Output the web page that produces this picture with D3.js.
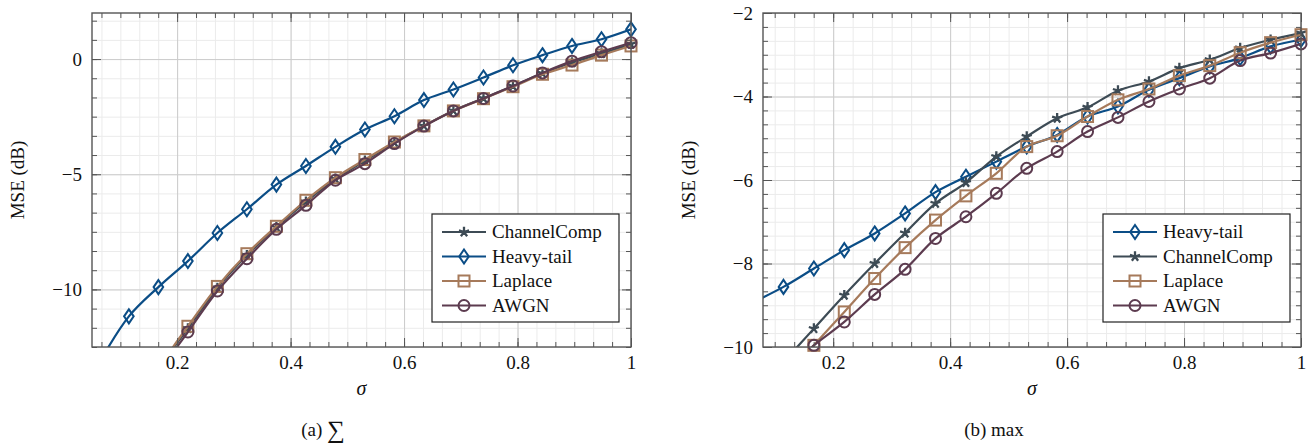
<!DOCTYPE html>
<html>
<head>
<meta charset="utf-8">
<script src="https://cdn.jsdelivr.net/npm/d3@7"></script>
<style>
  body { margin: 0; background: #fff; }
</style>
</head>
<body>
<svg id="chart" width="1309" height="443"></svg>
<script>
// sigma values (first entry is a lead-in point that falls outside the visible range)
const sigma = [0.060, 0.115, 0.167, 0.219, 0.271, 0.323, 0.375, 0.427, 0.479, 0.531,
               0.583, 0.635, 0.687, 0.740, 0.792, 0.844, 0.896, 0.948, 1.0];

// (a) sum — MSE in dB
const heavySum   = [-13.3, -11.17, -9.90, -8.77, -7.55, -6.52, -5.45, -4.64, -3.81, -3.06,
                    -2.48, -1.78, -1.32, -0.80, -0.27, 0.17, 0.57, 0.86, 1.29];
const channelSum = [null, null, -13.4, -11.70, -9.94, -8.52, -7.30, -6.20, -5.20, -4.42,
                    -3.62, -2.90, -2.24, -1.70, -1.17, -0.62, -0.15, 0.24, 0.65];
const laplaceSum = [null, null, -13.4, -11.60, -9.87, -8.45, -7.26, -6.13, -5.15, -4.36,
                    -3.60, -2.90, -2.25, -1.72, -1.20, -0.66, -0.26, 0.17, 0.57];
const awgnSum    = [null, null, -13.6, -11.85, -10.07, -8.67, -7.39, -6.35, -5.26, -4.54,
                    -3.67, -2.91, -2.25, -1.71, -1.17, -0.60, -0.09, 0.32, 0.71];

// (b) max — MSE in dB
const heavyMax   = [-8.95, -8.56, -8.12, -7.68, -7.28, -6.80, -6.29, -5.92, -5.56, -5.20,
                    -4.92, -4.48, -4.24, -3.84, -3.56, -3.28, -3.08, -2.80, -2.64];
const channelMax = [null, -10.36, -9.56, -8.76, -8.00, -7.27, -6.56, -6.06, -5.44, -4.96,
                    -4.52, -4.26, -3.86, -3.64, -3.32, -3.12, -2.84, -2.64, -2.48];
const laplaceMax = [null, -10.80, -9.96, -9.16, -8.36, -7.62, -6.96, -6.38, -5.84, -5.20,
                    -4.94, -4.48, -4.08, -3.82, -3.50, -3.26, -2.95, -2.71, -2.52];
const awgnMax    = [null, -10.60, -9.96, -9.40, -8.74, -8.14, -7.40, -6.88, -6.32, -5.72,
                    -5.32, -4.84, -4.50, -4.12, -3.82, -3.56, -3.14, -2.96, -2.74];

// tick labels
const xTicks = [0.2, 0.4, 0.6, 0.8, 1];
const yTicksSum = [-10, -5, 0];
const yTicksMax = [-10, -8, -6, -4, -2];

const names = { heavy: "Heavy-tail", channel: "ChannelComp", laplace: "Laplace", awgn: "AWGN" };
const colors = { heavy: "#0b4d86", channel: "#3d4b55", laplace: "#a67a5b", awgn: "#5c3b4f" };
const marks = { heavy: "diamond", channel: "star", laplace: "square", awgn: "circle" };

const panels = [
  { id: "a", left: 92, right: 631, xDomain: [0.05, 1], yDomain: [-12.5, 2],
    yTicks: yTicksSum, yMinorStep: 5 / 6, yLabelX: 17, caption: "(a) ", captionSym: "∑", captionX: 323,
    legendX: 432, order: ["channel", "heavy", "laplace", "awgn"],
    series: { heavy: heavySum, channel: channelSum, laplace: laplaceSum, awgn: awgnSum } },
  { id: "b", left: 763, right: 1301, xDomain: [0.08, 1], yDomain: [-10, -2],
    yTicks: yTicksMax, yMinorStep: 1 / 3, yLabelX: 688, caption: "(b) max", captionSym: "", captionX: 994,
    legendX: 1103, order: ["heavy", "channel", "laplace", "awgn"],
    series: { heavy: heavyMax, channel: channelMax, laplace: laplaceMax, awgn: awgnMax } }
];

const plotTop = 13, plotBottom = 347, h = plotBottom - plotTop;
const serif = '"Liberation Serif", "DejaVu Serif", serif';
const svg = d3.select("#chart");
const fmt = d3.format("~g");

function drawMark(g, type, color) {
  if (type === "circle") {
    g.append("circle").attr("r", 5.5);
  } else if (type === "square") {
    g.append("rect").attr("x", -5.5).attr("y", -5.5).attr("width", 11).attr("height", 11);
  } else if (type === "diamond") {
    g.append("path").attr("d", "M0,-7L4.8,0L0,7L-4.8,0Z");
  } else {
    const d = d3.range(5).map(i => {
      const a = -Math.PI / 2 + i * 2 * Math.PI / 5;
      return `M0,0L${(5.3 * Math.cos(a)).toFixed(2)},${(5.3 * Math.sin(a)).toFixed(2)}`;
    }).join("");
    g.append("path").attr("d", d);
  }
  g.selectAll("*").attr("fill", "none").attr("stroke", color)
    .attr("stroke-width", type === "star" ? 2.3 : 2);
}

function label(sel, size) {
  return sel.style("font-family", serif).style("font-size", size + "px").attr("fill", "#111");
}

panels.forEach(p => {
  const w = p.right - p.left;
  const x = d3.scaleLinear().domain(p.xDomain).range([0, w]);
  const y = d3.scaleLinear().domain(p.yDomain).range([h, 0]);
  const g = svg.append("g").attr("transform", `translate(${p.left},${plotTop})`);

  const xMinor = d3.range(0, 31).map(i => i / 30).filter(v => v >= p.xDomain[0] - 1e-9 && v <= p.xDomain[1] + 1e-9);
  const yMinor = d3.range(-60, 60).map(i => +(i * p.yMinorStep).toFixed(6))
    .filter(v => v >= p.yDomain[0] - 1e-9 && v <= p.yDomain[1] + 1e-9);

  // grid
  const grid = (axis, color) => g.append("g").call(axis)
    .call(s => s.select(".domain").remove())
    .call(s => s.selectAll("line").attr("stroke", color).attr("stroke-width", 1));
  grid(d3.axisBottom(x).tickValues(xMinor).tickSize(h).tickFormat(""), "#ebebeb");
  grid(d3.axisLeft(y).tickValues(yMinor).tickSize(-w).tickFormat(""), "#ebebeb");
  grid(d3.axisBottom(x).tickValues(xTicks).tickSize(h).tickFormat(""), "#cccccc");
  grid(d3.axisLeft(y).tickValues(p.yTicks).tickSize(-w).tickFormat(""), "#cccccc");

  // series
  const clipId = "clip-" + p.id;
  svg.append("clipPath").attr("id", clipId).append("rect").attr("width", w).attr("height", h);
  const plot = g.append("g");
  const line = d3.line()
    .defined(d => d.v !== null)
    .x(d => x(d.s)).y(d => y(d.v))
    .curve(d3.curveCatmullRom.alpha(0.5));

  p.order.forEach(key => {
    const pts = sigma.map((s, i) => ({ s, v: p.series[key][i] }));
    plot.append("path").datum(pts)
      .attr("clip-path", `url(#${clipId})`)
      .attr("d", line)
      .attr("fill", "none")
      .attr("stroke", colors[key])
      .attr("stroke-width", 2.2);
    pts.filter(d => d.v !== null && d.s >= p.xDomain[0] && d.v >= p.yDomain[0] - 0.05 && d.v <= p.yDomain[1])
      .forEach(d => {
        const m = plot.append("g").attr("transform", `translate(${x(d.s)},${y(d.v)})`);
        drawMark(m, marks[key], colors[key]);
      });
  });

  // frame ticks (inward on all four sides)
  const tickStyle = s => {
    s.select(".domain").remove();
    s.selectAll("line").attr("stroke", "#555").attr("stroke-width", 1);
  };
  g.append("g").attr("transform", `translate(0,${h})`).call(d3.axisBottom(x).tickValues(xMinor).tickSize(-5).tickFormat("")).call(tickStyle);
  g.append("g").call(d3.axisTop(x).tickValues(xMinor).tickSize(-5).tickFormat("")).call(tickStyle);
  g.append("g").call(d3.axisLeft(y).tickValues(yMinor).tickSize(-5).tickFormat("")).call(tickStyle);
  g.append("g").attr("transform", `translate(${w},0)`).call(d3.axisRight(y).tickValues(yMinor).tickSize(-5).tickFormat("")).call(tickStyle);
  g.append("g").call(d3.axisTop(x).tickValues(xTicks).tickSize(-9).tickFormat("")).call(tickStyle);
  g.append("g").attr("transform", `translate(${w},0)`).call(d3.axisRight(y).tickValues(p.yTicks).tickSize(-9).tickFormat("")).call(tickStyle);

  g.append("g").attr("transform", `translate(0,${h})`)
    .call(d3.axisBottom(x).tickValues(xTicks).tickSize(-9).tickPadding(9).tickFormat(fmt))
    .call(tickStyle)
    .call(s => label(s.selectAll("text"), 19));
  g.append("g")
    .call(d3.axisLeft(y).tickValues(p.yTicks).tickSize(-9).tickPadding(10).tickFormat(fmt))
    .call(tickStyle)
    .call(s => label(s.selectAll("text"), 19));

  g.append("rect").attr("width", w).attr("height", h)
    .attr("fill", "none").attr("stroke", "#555").attr("stroke-width", 1.4);

  // axis labels
  label(svg.append("text"), 20).attr("x", p.left + w / 2).attr("y", 395)
    .attr("text-anchor", "middle").style("font-style", "italic").text("σ");
  label(svg.append("text"), 19)
    .attr("transform", `translate(${p.yLabelX},${plotTop + h / 2}) rotate(-90)`)
    .attr("text-anchor", "middle").attr("dy", "0.35em").text("MSE (dB)");

  // caption
  const cap = label(svg.append("text"), 19).attr("x", p.captionX).attr("y", 436)
    .attr("text-anchor", "middle");
  cap.append("tspan").text(p.caption);
  if (p.captionSym) cap.append("tspan").style("font-size", "25px").attr("dy", 2).text(p.captionSym);

  // legend
  const lg = svg.append("g").attr("transform", `translate(${p.legendX},214)`);
  lg.append("rect").attr("width", 187).attr("height", 108)
    .attr("fill", "#fff").attr("stroke", "#222").attr("stroke-width", 1.2);
  p.order.forEach((key, i) => {
    const row = lg.append("g").attr("transform", `translate(0,${18 + i * 24.5})`);
    row.append("line").attr("x1", 10).attr("x2", 54)
      .attr("stroke", colors[key]).attr("stroke-width", 2.2);
    const m = row.append("g").attr("transform", "translate(32,0)");
    drawMark(m, marks[key], colors[key]);
    label(row.append("text"), 19).attr("x", 60).attr("dy", "0.33em").text(names[key]);
  });
});
</script>
</body>
</html>
